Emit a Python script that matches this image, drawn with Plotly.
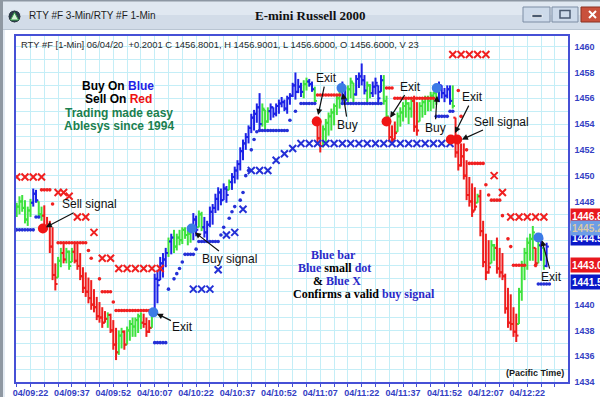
import plotly.graph_objects as go

# ---------------- data ----------------
# 1-minute bars; x = minutes after 04/09:22
bar_minute = list(range(-5, 188))
bar_color = list("".join(
    "GGGGGG BB GG RRRRR GG R GGG RRRRRRRRRRRR G RRR GG R GGGGGG RRR G BBBBB G B "
    "GGGGGGG BB GG BBBBBBBBB G BBBBBBBBBBB GGG BBBBBBBBBBBB GG BB G RR GGGGGGG BB "
    "GGG BBBB GG BBBB GG RRR GGGGGG RR GGGGGGG BBBBB G RRRRRRRR G RRRR GG RRRRRRRR "
    "GGGGGG R G B G B".split()))
bar_low = [
    1446.8, 1447.0, 1447.2, 1446.3, 1446.1, 1446.8, 1447.6, 1447.9, 1446.7, 1446.5,
    1445.9, 1445.8, 1444.0, 1441.9, 1441.1, 1442.1, 1442.9, 1443.2, 1443.2, 1442.7,
    1443.3, 1443.2, 1442.7, 1441.9, 1440.9, 1440.6, 1440.1, 1439.6, 1439.4, 1438.8,
    1438.6, 1438.2, 1438.6, 1438.2, 1437.8, 1436.5, 1435.7, 1436.1, 1436.6, 1436.5,
    1436.9, 1437.2, 1437.5, 1437.5, 1437.8, 1438.1, 1438.2, 1437.5, 1437.8, 1438.2,
    1439.6, 1440.1, 1441.9, 1442.1, 1442.9, 1443.7, 1443.9, 1444.0, 1444.2, 1444.6,
    1444.7, 1445.1, 1444.6, 1444.8, 1445.0, 1445.3, 1446.0, 1445.7, 1445.2, 1445.0,
    1446.0, 1446.2, 1447.1, 1447.3, 1447.7, 1448.1, 1447.9, 1448.9, 1448.9, 1449.4,
    1449.7, 1450.4, 1451.2, 1452.0, 1452.5, 1453.3, 1453.5, 1454.1, 1453.5, 1453.8,
    1453.5, 1454.1, 1454.3, 1454.5, 1454.6, 1454.8, 1455.3, 1455.0, 1454.8, 1455.5,
    1456.1, 1455.9, 1456.4, 1456.1, 1456.0, 1456.6, 1456.9, 1456.5, 1455.6, 1452.6,
    1451.8, 1452.2, 1452.6, 1453.1, 1453.5, 1453.9, 1454.7, 1455.2, 1455.7, 1455.5,
    1455.6, 1456.0, 1455.7, 1456.2, 1456.8, 1457.0, 1456.3, 1455.7, 1456.0, 1456.1,
    1456.3, 1455.7, 1456.5, 1455.5, 1454.5, 1452.6, 1452.4, 1452.8, 1453.4, 1453.8,
    1454.2, 1454.5, 1454.0, 1454.5, 1453.4, 1453.1, 1454.2, 1454.5, 1454.7, 1455.0,
    1455.0, 1455.2, 1455.5, 1455.7, 1456.0, 1455.7, 1456.0, 1455.5, 1455.2, 1451.4,
    1450.4, 1450.7, 1449.7, 1448.1, 1447.6, 1446.8, 1447.3, 1447.9, 1445.3, 1442.9,
    1441.9, 1442.4, 1443.2, 1443.4, 1442.4, 1442.1, 1441.9, 1439.3, 1438.2, 1438.0,
    1437.5, 1437.1, 1438.5, 1440.3, 1441.9, 1442.7, 1443.4, 1443.4, 1442.9, 1443.2,
    1443.4, 1442.7, 1442.9]
bar_high = [
    1447.9, 1448.4, 1448.5, 1448.1, 1447.6, 1448.2, 1449.0, 1448.9, 1448.0, 1447.6,
    1447.7, 1446.8, 1446.5, 1446.0, 1443.2, 1443.7, 1444.4, 1444.7, 1444.4, 1444.2,
    1444.4, 1444.7, 1444.7, 1444.0, 1442.9, 1442.5, 1442.1, 1441.9, 1441.2, 1440.6,
    1440.2, 1439.8, 1439.5, 1439.4, 1439.3, 1438.8, 1438.2, 1438.0, 1438.2, 1438.0,
    1438.3, 1438.8, 1439.0, 1439.0, 1439.3, 1439.4, 1439.3, 1439.0, 1438.8, 1439.6,
    1442.4, 1442.7, 1443.7, 1444.0, 1444.4, 1445.2, 1445.5, 1445.8, 1445.5, 1445.8,
    1446.0, 1446.0, 1445.8, 1446.1, 1447.1, 1446.9, 1447.3, 1447.2, 1446.8, 1446.5,
    1447.6, 1447.8, 1448.6, 1449.1, 1449.0, 1449.4, 1449.2, 1449.7, 1450.2, 1450.7,
    1451.2, 1452.2, 1452.8, 1453.3, 1453.9, 1454.8, 1455.1, 1455.6, 1456.4, 1455.6,
    1455.1, 1455.3, 1455.6, 1455.3, 1455.6, 1455.9, 1456.1, 1455.9, 1456.2, 1456.4,
    1457.2, 1458.0, 1457.5, 1457.2, 1457.4, 1457.6, 1457.5, 1457.3, 1456.9, 1454.5,
    1454.2, 1453.9, 1454.4, 1454.9, 1455.2, 1455.6, 1456.2, 1456.8, 1457.3, 1456.9,
    1457.0, 1457.6, 1457.2, 1457.8, 1458.0, 1458.7, 1457.8, 1457.3, 1457.1, 1457.3,
    1457.6, 1457.0, 1457.8, 1457.8, 1456.2, 1454.5, 1453.9, 1454.2, 1454.9, 1455.3,
    1455.7, 1456.0, 1455.7, 1456.0, 1456.2, 1455.7, 1455.7, 1456.0, 1456.2, 1456.2,
    1456.5, 1456.5, 1456.9, 1457.3, 1457.0, 1456.8, 1457.0, 1457.0, 1457.0, 1454.5,
    1453.0, 1452.5, 1452.5, 1451.2, 1449.9, 1449.4, 1449.1, 1448.6, 1448.9, 1446.5,
    1445.5, 1445.0, 1445.0, 1444.7, 1445.2, 1444.4, 1444.0, 1442.4, 1441.3, 1440.8,
    1439.8, 1439.3, 1441.3, 1443.4, 1444.4, 1445.2, 1445.5, 1446.1, 1444.4, 1445.0,
    1445.5, 1444.4, 1444.8]
bar_close = [
    1447.6, 1448.0, 1447.5, 1446.6, 1447.3, 1447.9, 1448.6, 1448.1, 1447.0, 1446.9,
    1446.0, 1446.2, 1444.5, 1442.3, 1441.6, 1443.4, 1444.0, 1443.5, 1444.1, 1443.0,
    1444.1, 1443.4, 1443.0, 1442.2, 1441.3, 1441.0, 1440.5, 1440.0, 1439.8, 1439.1,
    1439.0, 1438.6, 1438.9, 1439.2, 1438.0, 1436.9, 1436.3, 1437.6, 1437.9, 1436.9,
    1438.0, 1438.5, 1438.3, 1438.8, 1439.1, 1438.6, 1438.5, 1437.9, 1438.2, 1439.4,
    1442.0, 1441.5, 1443.2, 1443.5, 1444.0, 1444.9, 1445.2, 1444.5, 1445.2, 1445.0,
    1445.8, 1445.4, 1445.5, 1445.9, 1446.6, 1445.8, 1447.0, 1446.0, 1445.6, 1446.2,
    1447.2, 1447.5, 1448.2, 1448.7, 1448.1, 1449.0, 1448.5, 1449.5, 1449.9, 1450.4,
    1450.9, 1451.9, 1452.5, 1453.0, 1453.7, 1454.5, 1454.8, 1455.3, 1454.0, 1455.2,
    1454.2, 1455.0, 1455.3, 1454.8, 1455.4, 1455.6, 1455.7, 1455.2, 1456.0, 1456.2,
    1457.0, 1456.5, 1456.9, 1456.5, 1457.1, 1457.3, 1457.1, 1456.7, 1455.8, 1452.9,
    1452.3, 1453.6, 1454.1, 1454.6, 1454.9, 1455.4, 1456.0, 1456.6, 1457.0, 1455.9,
    1456.7, 1457.3, 1456.3, 1457.5, 1457.7, 1457.4, 1456.6, 1457.0, 1456.4, 1456.9,
    1457.2, 1456.0, 1457.4, 1455.8, 1454.6, 1453.0, 1452.8, 1453.3, 1454.6, 1454.9,
    1455.4, 1455.6, 1455.2, 1455.8, 1453.8, 1453.5, 1455.4, 1455.7, 1456.0, 1455.8,
    1456.2, 1456.4, 1456.7, 1457.0, 1456.4, 1456.2, 1456.7, 1455.8, 1455.4, 1451.8,
    1450.8, 1451.5, 1450.0, 1448.5, 1448.0, 1447.2, 1447.6, 1448.4, 1445.7, 1443.3,
    1442.5, 1442.9, 1444.6, 1444.4, 1442.8, 1442.5, 1442.2, 1439.7, 1438.6, 1438.5,
    1437.9, 1437.6, 1441.0, 1443.0, 1444.0, 1444.8, 1445.1, 1445.6, 1443.2, 1444.6,
    1445.1, 1443.0, 1444.5]

# small-dot stop line: runs of one dot per minute (start minute, end minute, price, colour)
dot_start = [-5, 2, 4, 8, 10, 21, 22, 25, 26, 30, 31, 45, 50, 52, 53, 54, 55, 56, 60, 61,
             69, 70, 72, 73, 74, 76, 77, 78, 79, 80, 81, 82, 83, 94, 96, 98, 104, 113, 129, 132,
             147, 152, 155, 156, 158, 159, 165, 166, 167, 171, 173, 174, 175, 183, 184]
dot_end = [1, 3, 7, 8, 20, 21, 22, 25, 29, 30, 43, 49, 50, 52, 53, 54, 55, 59, 60, 68,
           69, 70, 72, 73, 74, 76, 77, 78, 79, 80, 81, 82, 93, 94, 96, 103, 112, 127, 131, 146,
           151, 153, 155, 156, 158, 164, 165, 166, 170, 171, 173, 174, 179, 183, 188]
dot_price = [1445.8, 1446.8, 1448.9, 1447.8, 1444.8, 1444.2, 1443.6, 1442.0, 1441.0, 1440.2,
             1439.55, 1437.05, 1441.2, 1442.0, 1442.4, 1442.8, 1443.3, 1443.9, 1444.3, 1444.9,
             1445.4, 1446.0, 1446.7, 1447.2, 1447.6, 1448.1, 1448.7, 1450.0, 1450.4, 1452.0,
             1452.8, 1453.4, 1453.5, 1454.3, 1455.0, 1455.6, 1456.25, 1455.6, 1456.8, 1456.0,
             1454.6, 1455.0, 1456.6, 1454.6, 1452.0, 1450.95, 1449.3, 1448.5, 1448.1, 1446.9,
             1445.1, 1444.5, 1443.05, 1443.05, 1441.6]
dot_color = ["B", "B", "R", "R", "R", "R", "R", "R", "R", "R",
             "R", "B", "B", "B", "B", "B", "B", "B", "B", "B",
             "B", "B", "B", "B", "B", "B", "B", "B", "B", "B",
             "B", "B", "B", "B", "B", "B", "R", "B", "R", "R",
             "B", "B", "R", "R", "R", "R", "R", "R", "R", "R",
             "R", "R", "R", "R", "B"]

# 3-minute X stop markers
redx_minute = [-5, -2, 1, 4, 10, 12, 14, 17, 20, 23, 26, 29, 32, 35, 38, 41, 44, 47,
               153, 156, 159, 162, 165, 168, 171, 174, 177, 180, 183, 186]
redx_price = [1449.9, 1449.9, 1449.9, 1449.9, 1448.7, 1448.7, 1448.4, 1446.8, 1446.8, 1445.6,
              1443.6, 1443.6, 1442.8, 1442.8, 1442.8, 1442.8, 1442.8, 1442.8,
              1459.4, 1459.4, 1459.4, 1459.4, 1459.4, 1450.0, 1448.7, 1446.8, 1446.8, 1446.8,
              1446.8, 1446.8]
bluex_minute = [59, 62, 65, 68, 71, 74, 77, 80, 83, 86, 89, 92, 95, 98, 101, 104, 107, 110,
                113, 116, 119, 122, 125, 128, 131, 134, 137, 140, 143, 146, 149, 152]
bluex_price = [1441.2, 1441.2, 1441.2, 1442.7, 1445.4, 1445.6, 1447.4, 1450.4, 1450.4, 1450.4,
               1451.2, 1451.7, 1452.1, 1452.5, 1452.5, 1452.5, 1452.5, 1452.5, 1452.5, 1452.5,
               1452.5, 1452.5, 1452.5, 1452.5, 1452.5, 1452.5, 1452.5, 1452.5, 1452.5, 1452.5,
               1452.5, 1452.5]

# large signal dots
sig_minute = [4.5, 44.5, 58.4, 103.7, 112.7, 129.0, 147.2, 152.3, 154.6, 184.0]
sig_price = [1445.9, 1439.4, 1445.9, 1454.2, 1456.8, 1454.2, 1456.8, 1452.8, 1452.8, 1445.2]
sig_color = ["R", "B", "B", "R", "B", "R", "B", "R", "R", "B"]

# arrow labels (arrow head position)
label_text = ["Sell signal", "Exit", "Buy signal", "Exit", "Buy", "Exit", "Buy", "Exit",
              "Sell signal", "Exit"]
label_minute = [5.6, 45.8, 59.6, 104.2, 113.2, 130.3, 147.3, 153.8, 156.3, 185.3]
label_price = [1446.0, 1439.3, 1445.6, 1454.7, 1456.4, 1454.5, 1456.2, 1453.3, 1452.8, 1445.0]

# axis ticks
tick_minute = [0, 15, 30, 45, 60, 75, 90, 105, 120, 135, 150, 165, 180]
tick_label = ["04/09:22", "04/09:37", "04/09:52", "04/10:07", "04/10:22", "04/10:37",
              "04/10:52", "04/11:07", "04/11:22", "04/11:37", "04/11:52", "04/12:07", "04/12:22"]
ytick_vals = [1434, 1436, 1438, 1440, 1448, 1450, 1452, 1454, 1456, 1458, 1460]

# right-hand price tags
tag_text = ["1446.80", "1444.50", "1445.20", "1443.05", "1441.55"]
tag_price = [1446.84, 1445.19, 1445.96, 1443.05, 1441.77]
tag_kind = ["red", "blue", "light", "red", "blue"]

assert len(bar_color) == len(bar_minute) == len(bar_low) == len(bar_high) == len(bar_close)

# ---------------- styles ----------------
W, H = 600, 397
ML, MR, MT, MB = 16, 32, 36, 15
PW, PH = W - ML - MR, H - MT - MB


def PX(x):
    return (x - ML) / PW


def PY(y):
    return (H - MB - y) / PH


GRID = "#c4eef7"
BORDER = "#4650d6"
AXIS_TXT = "#3440c4"
BAR_COL = {"G": "#3ee23e", "R": "#ee1c1c", "B": "#1c22e6"}
DOT_COL = {"R": "#f02020", "B": "#2430d6"}
SIG_COL = {"R": "#f01515", "B": "#3b7be6"}
SANS = "Liberation Sans"
SERIF = "Liberation Serif"

fig = go.Figure()

# bars (vertical high-low line, open tick left, close tick right)
TICK = 0.8
for code, col in BAR_COL.items():
    xs, ys = [], []
    for i, m in enumerate(bar_minute):
        if bar_color[i] != code:
            continue
        prev = bar_close[i - 1] if i > 0 else bar_close[i]
        op = min(max(prev, bar_low[i]), bar_high[i])
        xs += [m, m, None, m - TICK, m, None, m, m + TICK, None]
        ys += [bar_low[i], bar_high[i], None, op, op, None, bar_close[i], bar_close[i], None]
    fig.add_trace(go.Scatter(x=xs, y=ys, mode="lines", line=dict(color=col, width=2),
                             hoverinfo="skip", showlegend=False))

# small dots
for code, col in DOT_COL.items():
    xs, ys = [], []
    for s, e, p, c in zip(dot_start, dot_end, dot_price, dot_color):
        if c == code:
            for m in range(s, e + 1):
                xs.append(m)
                ys.append(p)
    fig.add_trace(go.Scatter(x=xs, y=ys, mode="markers",
                             marker=dict(size=3.6, color=col, line=dict(width=0)),
                             hoverinfo="skip", showlegend=False))

# X markers
for xs, ys, col in [(redx_minute, redx_price, DOT_COL["R"]), (bluex_minute, bluex_price, DOT_COL["B"])]:
    fig.add_trace(go.Scatter(x=xs, y=ys, mode="markers",
                             marker=dict(symbol="x-thin", size=7, color=col, line=dict(width=2, color=col)),
                             hoverinfo="skip", showlegend=False))

# signal dots
fig.add_trace(go.Scatter(x=sig_minute, y=sig_price, mode="markers",
                         marker=dict(size=10, color=[SIG_COL[c] for c in sig_color], line=dict(width=0)),
                         hoverinfo="skip", showlegend=False))

# arrow labels
label_offset = [(44, -23), (26, 13), (35, 27), (8, -37), (5, 32), (20, -31), (-2, 32), (18, -36),
                (40, -18), (10, 37)]
for t, m, p, (ax, ay) in zip(label_text, label_minute, label_price, label_offset):
    fig.add_annotation(x=m, y=p, xref="x", yref="y", text=t, showarrow=True, ax=ax, ay=ay,
                       arrowhead=2, arrowsize=1, arrowwidth=1.2, arrowcolor="#111",
                       font=dict(family=SANS, size=12, color="#111"), standoff=0)

# text blocks
BLUE_T = "#1f1fe6"
RED_T = "#ee1111"
GREEN_T = "#1b7f4f"
SBLUE = "#2a2ac8"
left_lines = [
    (118, 86, f"<b>Buy On <span style='color:{BLUE_T}'>Blue</span></b>", "#000"),
    (118, 99, f"<b>Sell On <span style='color:{RED_T}'>Red</span></b>", "#000"),
    (119, 113, "<b>Trading made easy</b>", GREEN_T),
    (119, 126, "<b>Ablesys since 1994</b>", GREEN_T),
]
for x, y, t, c in left_lines:
    fig.add_annotation(xref="paper", yref="paper", x=PX(x), y=PY(y), text=t, showarrow=False,
                       xanchor="center", yanchor="middle", font=dict(family=SANS, size=12, color=c))

mid_lines = [
    (333, 255, "<b>Blue bar</b>", SBLUE),
    (334, 268, f"<b>Blue <span style='color:#000'>small</span> dot</b>", SBLUE),
    (337, 281, f"<b><span style='color:#000'>&amp;</span> Blue X</b>", SBLUE),
    (364, 294, f"<b>Confirms a valid <span style='color:{SBLUE}'>buy signal</span></b>", "#000"),
]
for x, y, t, c in mid_lines:
    fig.add_annotation(xref="paper", yref="paper", x=PX(x), y=PY(y), text=t, showarrow=False,
                       xanchor="center", yanchor="middle", font=dict(family=SERIF, size=12, color=c))

# header line inside the plot
fig.add_annotation(xref="paper", yref="paper", x=PX(19), y=PY(44), xanchor="left", yanchor="middle",
                   showarrow=False,
                   text="RTY #F [1-Min] 06/04/20  +0.2001 C 1456.8001, H 1456.9001, L 1456.6000, O 1456.6000, V 23",
                   font=dict(family=SANS, size=9.4, color="#2a2a2a"))
fig.add_annotation(xref="paper", yref="paper", x=PX(566), y=PY(373), xanchor="right", yanchor="middle",
                   showarrow=False, text="<b>(Pacific Time)</b>",
                   font=dict(family=SANS, size=9, color="#1a1a1a"))

# price tags on the right
TAG_STYLE = {"red": ("#e8181e", "#ffffff"), "blue": ("#0a18c8", "#ffffff"), "light": ("#6d9de6", "#d9c9a6")}
for t, p, k in zip(tag_text, tag_price, tag_kind):
    bg, fc = TAG_STYLE[k]
    fig.add_annotation(xref="paper", yref="y", x=PX(570), y=p, xanchor="left", yanchor="middle",
                       showarrow=False, text=f"<b>{t}</b>", bgcolor=bg, width=46, height=12,
                       align="left", borderpad=1, font=dict(family=SANS, size=10, color=fc))

# window chrome
shapes = []


def rect(x0, y0, x1, y1, fill, line=None, lw=0):
    shapes.append(dict(type="rect", xref="paper", yref="paper", x0=PX(x0), x1=PX(x1), y0=PY(y1), y1=PY(y0),
                       fillcolor=fill, line=dict(color=line or fill, width=lw), layer="above"))


def seg(x0, y0, x1, y1, col, lw):
    shapes.append(dict(type="line", xref="paper", yref="paper", x0=PX(x0), x1=PX(x1), y0=PY(y0), y1=PY(y1),
                       line=dict(color=col, width=lw), layer="above"))


rect(0, 0, 600, 15, "#e0e8f1")
rect(0, 15, 600, 30, "#d2dce8")
rect(0, 0, 600, 1.5, "#8d97a3")
rect(0, 29, 600, 30, "#b9c5d2")
rect(0, 0, 3, 397, "#8f98a2")
rect(3, 30, 5, 397, "#e4ebf3")
# buttons
rect(523, 7, 550, 22, "#cddaea", "#7c8da4", 1)
rect(532, 14.5, 542, 17.5, "#4a5a70", "#ffffff", 0.6)
rect(552, 7, 578, 22, "#cddaea", "#7c8da4", 1)
rect(560, 10.5, 570, 18, "rgba(0,0,0,0)", "#4a5a70", 1.5)
rect(581, 7, 606, 22, "#c9503c", "#8a3020", 1)
seg(589, 11, 596, 18, "#ffffff", 2)
seg(589, 18, 596, 11, "#ffffff", 2)
# icon
shapes.append(dict(type="circle", xref="paper", yref="paper", x0=PX(8), x1=PX(21), y0=PY(23), y1=PY(10),
                   fillcolor="#2c3a48", line=dict(color="#dfe6ee", width=1), layer="above"))
shapes.append(dict(type="path", xref="paper", yref="paper",
                   path=f"M {PX(14.5)} {PY(12.5)} L {PX(18.5)} {PY(20)} L {PX(10.5)} {PY(20)} Z",
                   fillcolor="#d8f0d8", line=dict(color="#3aa04a", width=1), layer="above"))

fig.add_annotation(xref="paper", yref="paper", x=PX(27), y=PY(16), xanchor="left", yanchor="middle",
                   showarrow=False, text="RTY #F 3-Min/RTY #F 1-Min",
                   font=dict(family=SANS, size=10, color="#1e1e1e"))
fig.add_annotation(xref="paper", yref="paper", x=PX(310), y=PY(16), xanchor="center", yanchor="middle",
                   showarrow=False, text="<b>E-mini Russell 2000</b>",
                   font=dict(family=SERIF, size=13, color="#111"))

fig.update_layout(
    width=W, height=H, autosize=False,
    margin=dict(l=ML, r=MR, t=MT, b=MB, pad=0, autoexpand=False),
    paper_bgcolor="#ffffff", plot_bgcolor="#ffffff",
    showlegend=False, shapes=shapes,
    xaxis=dict(range=[-5.25, 194.75], tickmode="array", tickvals=tick_minute, ticktext=tick_label,
               ticks="outside", ticklen=3, tickwidth=1, tickcolor=BORDER, automargin=False,
               showgrid=True, gridcolor=GRID, gridwidth=1, zeroline=False,
               showline=True, linecolor=BORDER, linewidth=1.5, mirror=True,
               tickfont=dict(family=SANS, size=9, color=AXIS_TXT, weight="bold"),
               ticklabelstandoff=-2,
               minor=dict(tickmode="linear", tick0=0, dtick=5, ticks="outside", ticklen=3,
                          tickcolor=BORDER, showgrid=True, gridcolor=GRID, gridwidth=1)),
    yaxis=dict(side="right", range=[1434, 1460.83], tickmode="array", tickvals=ytick_vals,
               ticks="", showgrid=True, gridcolor=GRID, gridwidth=1, zeroline=False, automargin=False,
               showline=True, linecolor=BORDER, linewidth=1.5, mirror=True,
               tickfont=dict(family=SANS, size=9, color=AXIS_TXT, weight="bold"),
               ticklabelstandoff=3,
               minor=dict(tickmode="linear", tick0=0, dtick=1, showgrid=True, gridcolor=GRID, gridwidth=1)),
)

fig.write_html("out.html", config={"displayModeBar": False},
               post_script="document.body.style.margin='0';")
